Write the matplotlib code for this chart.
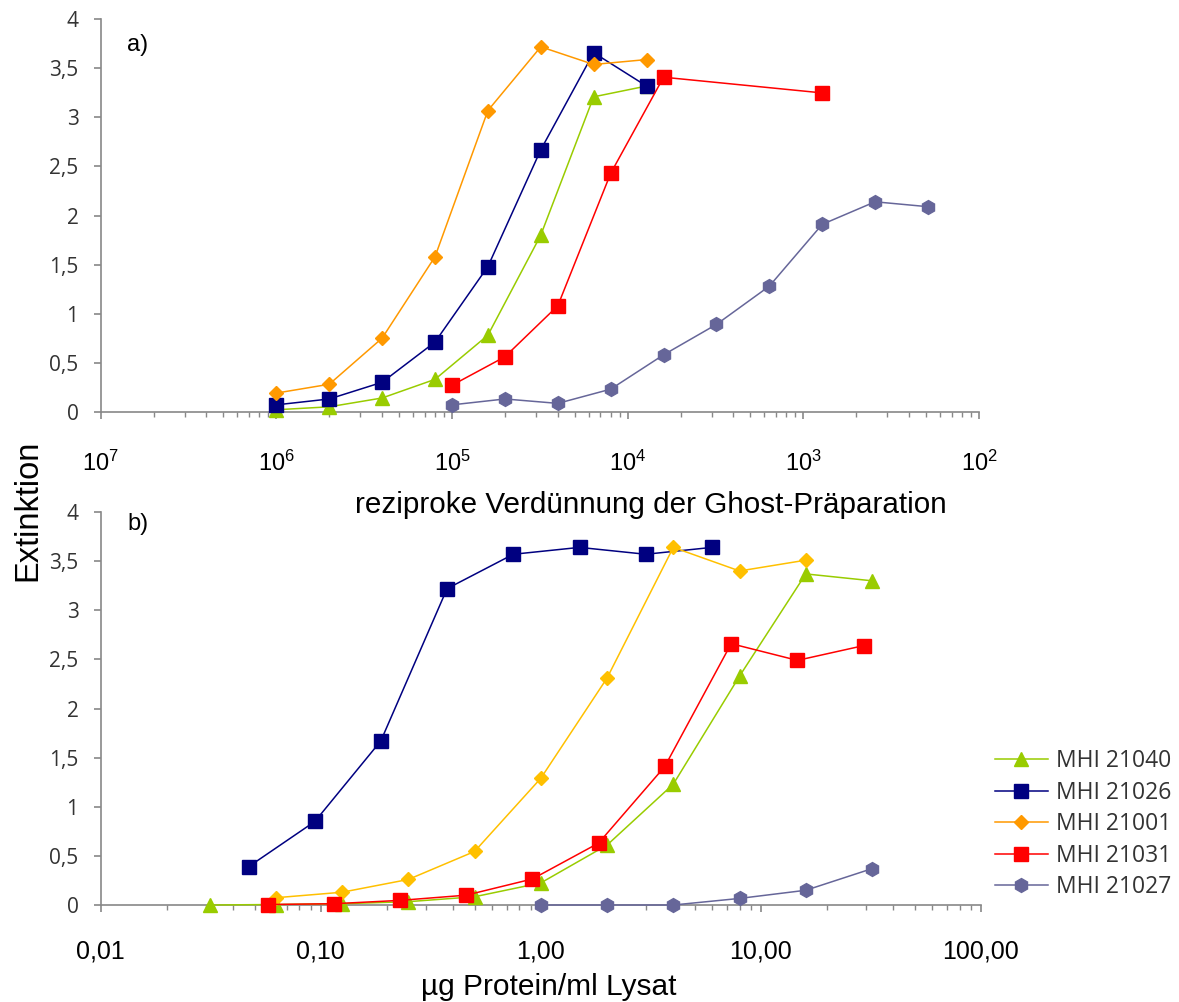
import matplotlib
matplotlib.use("Agg")
import matplotlib.pyplot as plt
from matplotlib.ticker import FixedLocator, LogLocator, NullFormatter

# Daten a) reziproke Verdünnung
top_x_1 = [1e6, 5e5, 2.5e5, 1.25e5, 6.25e4, 3.125e4, 1.5625e4, 7812.5]
top_green_y = [0.02, 0.05, 0.14, 0.33, 0.78, 1.80, 3.21, 3.32]
top_blue_y = [0.07, 0.13, 0.30, 0.71, 1.48, 2.67, 3.66, 3.32]
top_orange_y = [0.19, 0.28, 0.75, 1.58, 3.07, 3.72, 3.54, 3.59]
top_red_x = [1e5, 5e4, 2.5e4, 1.25e4, 6250, 781.25]
top_red_y = [0.27, 0.56, 1.08, 2.43, 3.41, 3.25]
top_purple_x = [1e5, 5e4, 2.5e4, 1.25e4, 6250, 3125, 1562.5, 781.25, 390.625, 195.3125]
top_purple_y = [0.07, 0.13, 0.085, 0.23, 0.58, 0.89, 1.28, 1.91, 2.14, 2.09]

# Daten b) µg Protein/ml Lysat
bot_green_x = [0.03125, 0.0625, 0.125, 0.25, 0.5, 1, 2, 4, 8, 16, 32]
bot_green_y = [0.0, 0.005, 0.013, 0.034, 0.084, 0.225, 0.61, 1.23, 2.33, 3.37, 3.30]
bot_blue_x = [0.047, 0.094, 0.1875, 0.375, 0.75, 1.5, 3.0, 6.0]
bot_blue_y = [0.39, 0.85, 1.67, 3.22, 3.57, 3.64, 3.57, 3.64]
bot_orange_x = [0.0625, 0.125, 0.25, 0.5, 1, 2, 4, 8, 16]
bot_orange_y = [0.074, 0.13, 0.26, 0.545, 1.29, 2.31, 3.64, 3.40, 3.51]
bot_red_x = [0.0573, 0.1145, 0.229, 0.458, 0.916, 1.83, 3.66, 7.33, 14.65, 29.3]
bot_red_y = [0.005, 0.013, 0.047, 0.10, 0.265, 0.63, 1.41, 2.66, 2.49, 2.64]
bot_purple_x = [1, 2, 4, 8, 16, 32]
bot_purple_y = [0.0, 0.0, 0.0, 0.067, 0.15, 0.37]

labels = ["MHI 21040", "MHI 21026", "MHI 21001", "MHI 21031", "MHI 21027"]
y_ticks = [0, 0.5, 1, 1.5, 2, 2.5, 3, 3.5, 4]
y_ticklabels = ["0", "0,5", "1", "1,5", "2", "2,5", "3", "3,5", "4"]
top_ticks = [1e7, 1e6, 1e5, 1e4, 1e3, 1e2]
top_ticklabels = [r"$\mathregular{10^{7}}$", r"$\mathregular{10^{6}}$", r"$\mathregular{10^{5}}$",
                  r"$\mathregular{10^{4}}$", r"$\mathregular{10^{3}}$", r"$\mathregular{10^{2}}$"]
bot_ticks = [0.01, 0.1, 1, 10, 100]
bot_ticklabels = ["0,01", "0,10", "1,00", "10,00", "100,00"]

GREEN = "#99CC00"
BLUE = "#000080"
ORANGE = "#FF9900"
YELLOW = "#FFC000"
RED = "#FF0000"
PURPLE = "#666699"
AXCOL = "#888888"

plt.rcParams["font.family"] = ["Liberation Sans", "DejaVu Sans"]
plt.rcParams["mathtext.fontset"] = "custom"
plt.rcParams["mathtext.rm"] = "Liberation Sans"

fig = plt.figure(figsize=(11.79, 10.02), dpi=100)
ax1 = fig.add_axes([0.0854, 0.5891, 0.745, 0.3916])
ax2 = fig.add_axes([0.0854, 0.0968, 0.7466, 0.3922])


def style(ax):
    for s in ["top", "right"]:
        ax.spines[s].set_visible(False)
    for s in ["left", "bottom"]:
        ax.spines[s].set_color(AXCOL)
        ax.spines[s].set_linewidth(1.2)
    ax.set_xscale("log")
    ax.set_ylim(0, 4)
    ax.set_yticks(y_ticks)
    ax.set_yticklabels(y_ticklabels, fontfamily="Open Sans", fontsize=15, color="#333333")
    ax.tick_params(axis="y", direction="out", length=5, width=1.2, color=AXCOL, pad=11)
    ax.tick_params(axis="x", which="major", direction="out", length=5, width=1.2, color=AXCOL)
    ax.tick_params(axis="x", which="minor", direction="out", length=3.5, width=1.0, color=AXCOL)
    ax.xaxis.set_minor_formatter(NullFormatter())


def line(ax, x, y, color, marker, ms, label=None):
    return ax.plot(x, y, color=color, marker=marker, markersize=ms, linewidth=1.1,
                   markeredgecolor=color, clip_on=False, label=label, zorder=3)[0]


style(ax1)
ax1.set_xlim(1e7, 1e2)
ax1.xaxis.set_major_locator(FixedLocator(top_ticks))
# Hilfsstriche wie in Excel gespiegelt: 10^(d+1)/k
ax1.xaxis.set_minor_locator(FixedLocator([t / k for t in top_ticks[:-1] for k in range(2, 10)]))
ax1.set_xticklabels(top_ticklabels, fontsize=17)
ax1.tick_params(axis="x", which="major", pad=23)

h_green = line(ax1, top_x_1, top_green_y, GREEN, "^", 9.5, labels[0])
h_blue = line(ax1, top_x_1, top_blue_y, BLUE, "s", 9.5, labels[1])
h_orange = line(ax1, top_x_1, top_orange_y, ORANGE, "D", 7.5, labels[2])
h_red = line(ax1, top_red_x, top_red_y, RED, "s", 9.5, labels[3])
h_purple = line(ax1, top_purple_x, top_purple_y, PURPLE, "h", 10, labels[4])
ax1.text(0.03, 0.935, "a)", transform=ax1.transAxes, fontsize=17, va="center")

style(ax2)
ax2.set_xlim(0.01, 100)
ax2.xaxis.set_major_locator(FixedLocator(bot_ticks))
ax2.xaxis.set_minor_locator(LogLocator(base=10, subs=range(2, 10), numticks=20))
ax2.set_xticklabels(bot_ticklabels, fontsize=18)
ax2.tick_params(axis="x", which="major", pad=20)

line(ax2, bot_green_x, bot_green_y, GREEN, "^", 9.5)
line(ax2, bot_blue_x, bot_blue_y, BLUE, "s", 9.5)
line(ax2, bot_orange_x, bot_orange_y, YELLOW, "D", 7.5)
line(ax2, bot_red_x, bot_red_y, RED, "s", 9.5)
line(ax2, bot_purple_x, bot_purple_y, PURPLE, "h", 10)
ax2.text(0.03, 0.97, "b)", transform=ax2.transAxes, fontsize=17, va="center")

fig.text(651 / 1179, 1 - 505 / 1002, "reziproke Verdünnung der Ghost-Präparation",
         fontsize=21.3, ha="center", va="center")
fig.text(549 / 1179, 1 - 987 / 1002, "µg Protein/ml Lysat", fontsize=21.5, ha="center", va="center")
fig.text(28 / 1179, 1 - 510 / 1002, "Extinktion", fontsize=23.5, rotation=90, ha="center", va="center")

leg = fig.legend(handles=[h_green, h_blue, h_orange, h_red, h_purple], labels=labels,
                 loc="upper left", bbox_to_anchor=(995 / 1179, 1 - 749 / 1002),
                 frameon=False, handlelength=2.3, handletextpad=0.35, labelspacing=0.33,
                 prop={"family": "Open Sans", "size": 16.5}, borderaxespad=0, borderpad=0)
for t in leg.get_texts():
    t.set_color("#333333")

fig.savefig("out.png", dpi=100)
